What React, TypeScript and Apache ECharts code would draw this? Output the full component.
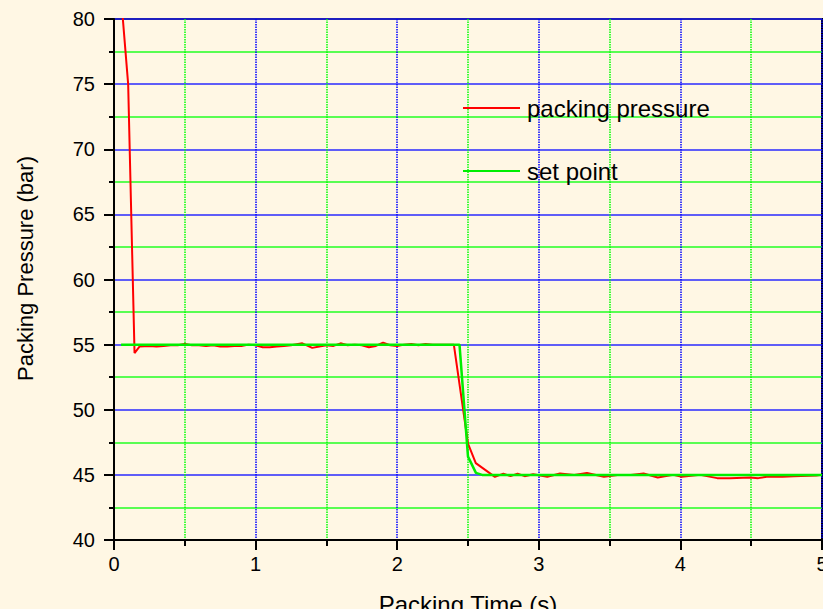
import React, { useEffect, useRef } from "react";
import * as echarts from "echarts";

const pressureTime = [
  0.055, 0.1, 0.145, 0.18, 0.25, 0.3, 0.35, 0.4, 0.45, 0.5, 0.55, 0.6, 0.65, 0.7, 0.75, 0.8, 0.85, 0.9,
  0.95, 1.0, 1.05, 1.1, 1.15, 1.2, 1.25, 1.33, 1.4, 1.45, 1.5, 1.55, 1.6, 1.65, 1.7, 1.75, 1.8, 1.85,
  1.9, 1.95, 2.0, 2.05, 2.1, 2.15, 2.2, 2.25, 2.3, 2.35, 2.4, 2.5, 2.555, 2.69, 2.75, 2.8, 2.85, 2.9,
  2.96, 3.06, 3.15, 3.25, 3.34, 3.46, 3.57, 3.65, 3.74, 3.84, 3.95, 4.01, 4.14, 4.26, 4.35, 4.49, 4.55,
  4.61, 4.72, 4.8, 4.96, 5.0,
];
const pressureValue = [
  81, 75.0, 54.35, 54.85, 54.9, 54.85, 54.9, 54.95, 54.95, 55.05, 54.95, 54.95, 54.9, 54.95, 54.85, 54.85,
  54.9, 54.9, 55.0, 54.95, 54.8, 54.8, 54.85, 54.9, 54.95, 55.1, 54.75, 54.85, 54.95, 54.9, 55.1, 54.95,
  55.0, 54.95, 54.8, 54.9, 55.15, 54.95, 54.9, 55.0, 55.05, 54.95, 55.05, 55.0, 55.0, 55.0, 55.0, 47.4,
  45.9, 44.85, 45.1, 44.9, 45.1, 44.9, 45.05, 44.85, 45.1, 45.0, 45.15, 44.85, 45.0, 45.0, 45.1, 44.8,
  45.0, 44.85, 45.0, 44.75, 44.75, 44.8, 44.75, 44.85, 44.85, 44.9, 44.95, 45.0,
];
const setTime = [0.05, 2.44, 2.5, 2.556, 2.6, 5.0];
const setValue = [55, 55, 46.4, 45.15, 45.0, 45.0];

const seriesNames = ["packing pressure", "set point"];
const xTitle = "Packing Time (s)";
const yTitle = "Packing Pressure (bar)";

const FONT = "'Liberation Sans', Arial, sans-serif";
const BG = "#fff7e4";

export default function App() {
  const ref = useRef<HTMLDivElement>(null);
  useEffect(() => {
    document.body.style.margin = "0";
    document.body.style.background = BG;
    const chart = echarts.init(ref.current!, undefined, { renderer: "svg" });
    const pData = pressureTime.map((t, i) => [t, pressureValue[i]]);
    const sData = setTime.map((t, i) => [t, setValue[i]]);
    chart.setOption({
      animation: false,
      backgroundColor: BG,
      textStyle: { fontFamily: FONT },
      grid: {
        left: 114,
        top: 19,
        right: 1,
        bottom: 69,
        containLabel: false,
        outerBoundsMode: "none",
        show: true,
        borderColor: "#000",
        borderWidth: 2,
        backgroundColor: "transparent",
      },
      legend: [
        {
          data: [seriesNames[0]],
          left: 463,
          top: 96,
          padding: 0,
          icon: "rect",
          itemWidth: 57,
          itemHeight: 2,
          textStyle: { fontSize: 24, color: "#000", fontFamily: FONT, lineHeight: 24, padding: [0, 0, 0, 2] },
        },
        {
          data: [seriesNames[1]],
          left: 463,
          top: 159,
          padding: 0,
          icon: "rect",
          itemWidth: 57,
          itemHeight: 2,
          textStyle: { fontSize: 24, color: "#000", fontFamily: FONT, lineHeight: 24, padding: [0, 0, 0, 2] },
        },
      ],
      xAxis: {
        type: "value",
        min: 0,
        max: 5,
        interval: 1,
        name: xTitle,
        nameLocation: "middle",
        nameGap: 52,
        nameTextStyle: { fontSize: 24, color: "#000", fontFamily: FONT },
        axisLine: { show: true, onZero: false, lineStyle: { color: "#000", width: 2 } },
        axisTick: { show: true, inside: false, length: 10, lineStyle: { color: "#000", width: 2 } },
        minorTick: { show: true, splitNumber: 2, length: 6, lineStyle: { color: "#000", width: 2 } },
        axisLabel: { fontSize: 20, color: "#000", margin: 14, fontFamily: FONT },
        splitLine: { show: true, lineStyle: { color: "#0000ff", width: 1.5, type: [1.5, 1] } },
        minorSplitLine: { show: true, lineStyle: { color: "#00ff00", width: 1.5, type: [1.5, 1] } },
      },
      yAxis: {
        type: "value",
        min: 40,
        max: 80,
        interval: 5,
        name: yTitle,
        nameLocation: "middle",
        nameGap: 78,
        nameTextStyle: { fontSize: 22, color: "#000", fontFamily: FONT, padding: [0, 0, 0, 22] },
        axisLine: { show: true, onZero: false, lineStyle: { color: "#000", width: 2 } },
        axisTick: { show: true, inside: false, length: 10, lineStyle: { color: "#000", width: 2 } },
        minorTick: { show: true, splitNumber: 2, length: 5, lineStyle: { color: "#000", width: 2 } },
        axisLabel: { fontSize: 20, color: "#000", margin: 19, fontFamily: FONT },
        splitLine: { show: true, lineStyle: { color: "#2a2aff", width: 1.5, type: "solid" } },
        minorSplitLine: { show: true, lineStyle: { color: "#22ff22", width: 1.5, type: "solid" } },
      },
      series: [
        {
          name: seriesNames[0],
          type: "line",
          data: pData,
          showSymbol: false,
          symbol: "none",
          color: "#ff0000",
          lineStyle: { color: "#ff0000", width: 2 },
          clip: true,
        },
        {
          name: seriesNames[1],
          type: "line",
          data: sData,
          showSymbol: false,
          symbol: "none",
          color: "#00ee00",
          lineStyle: { color: "#00ee00", width: 2.5 },
          clip: true,
        },
      ],
    });
    return () => chart.dispose();
  }, []);
  return <div ref={ref} style={{ width: 823, height: 609, background: BG }} />;
}
